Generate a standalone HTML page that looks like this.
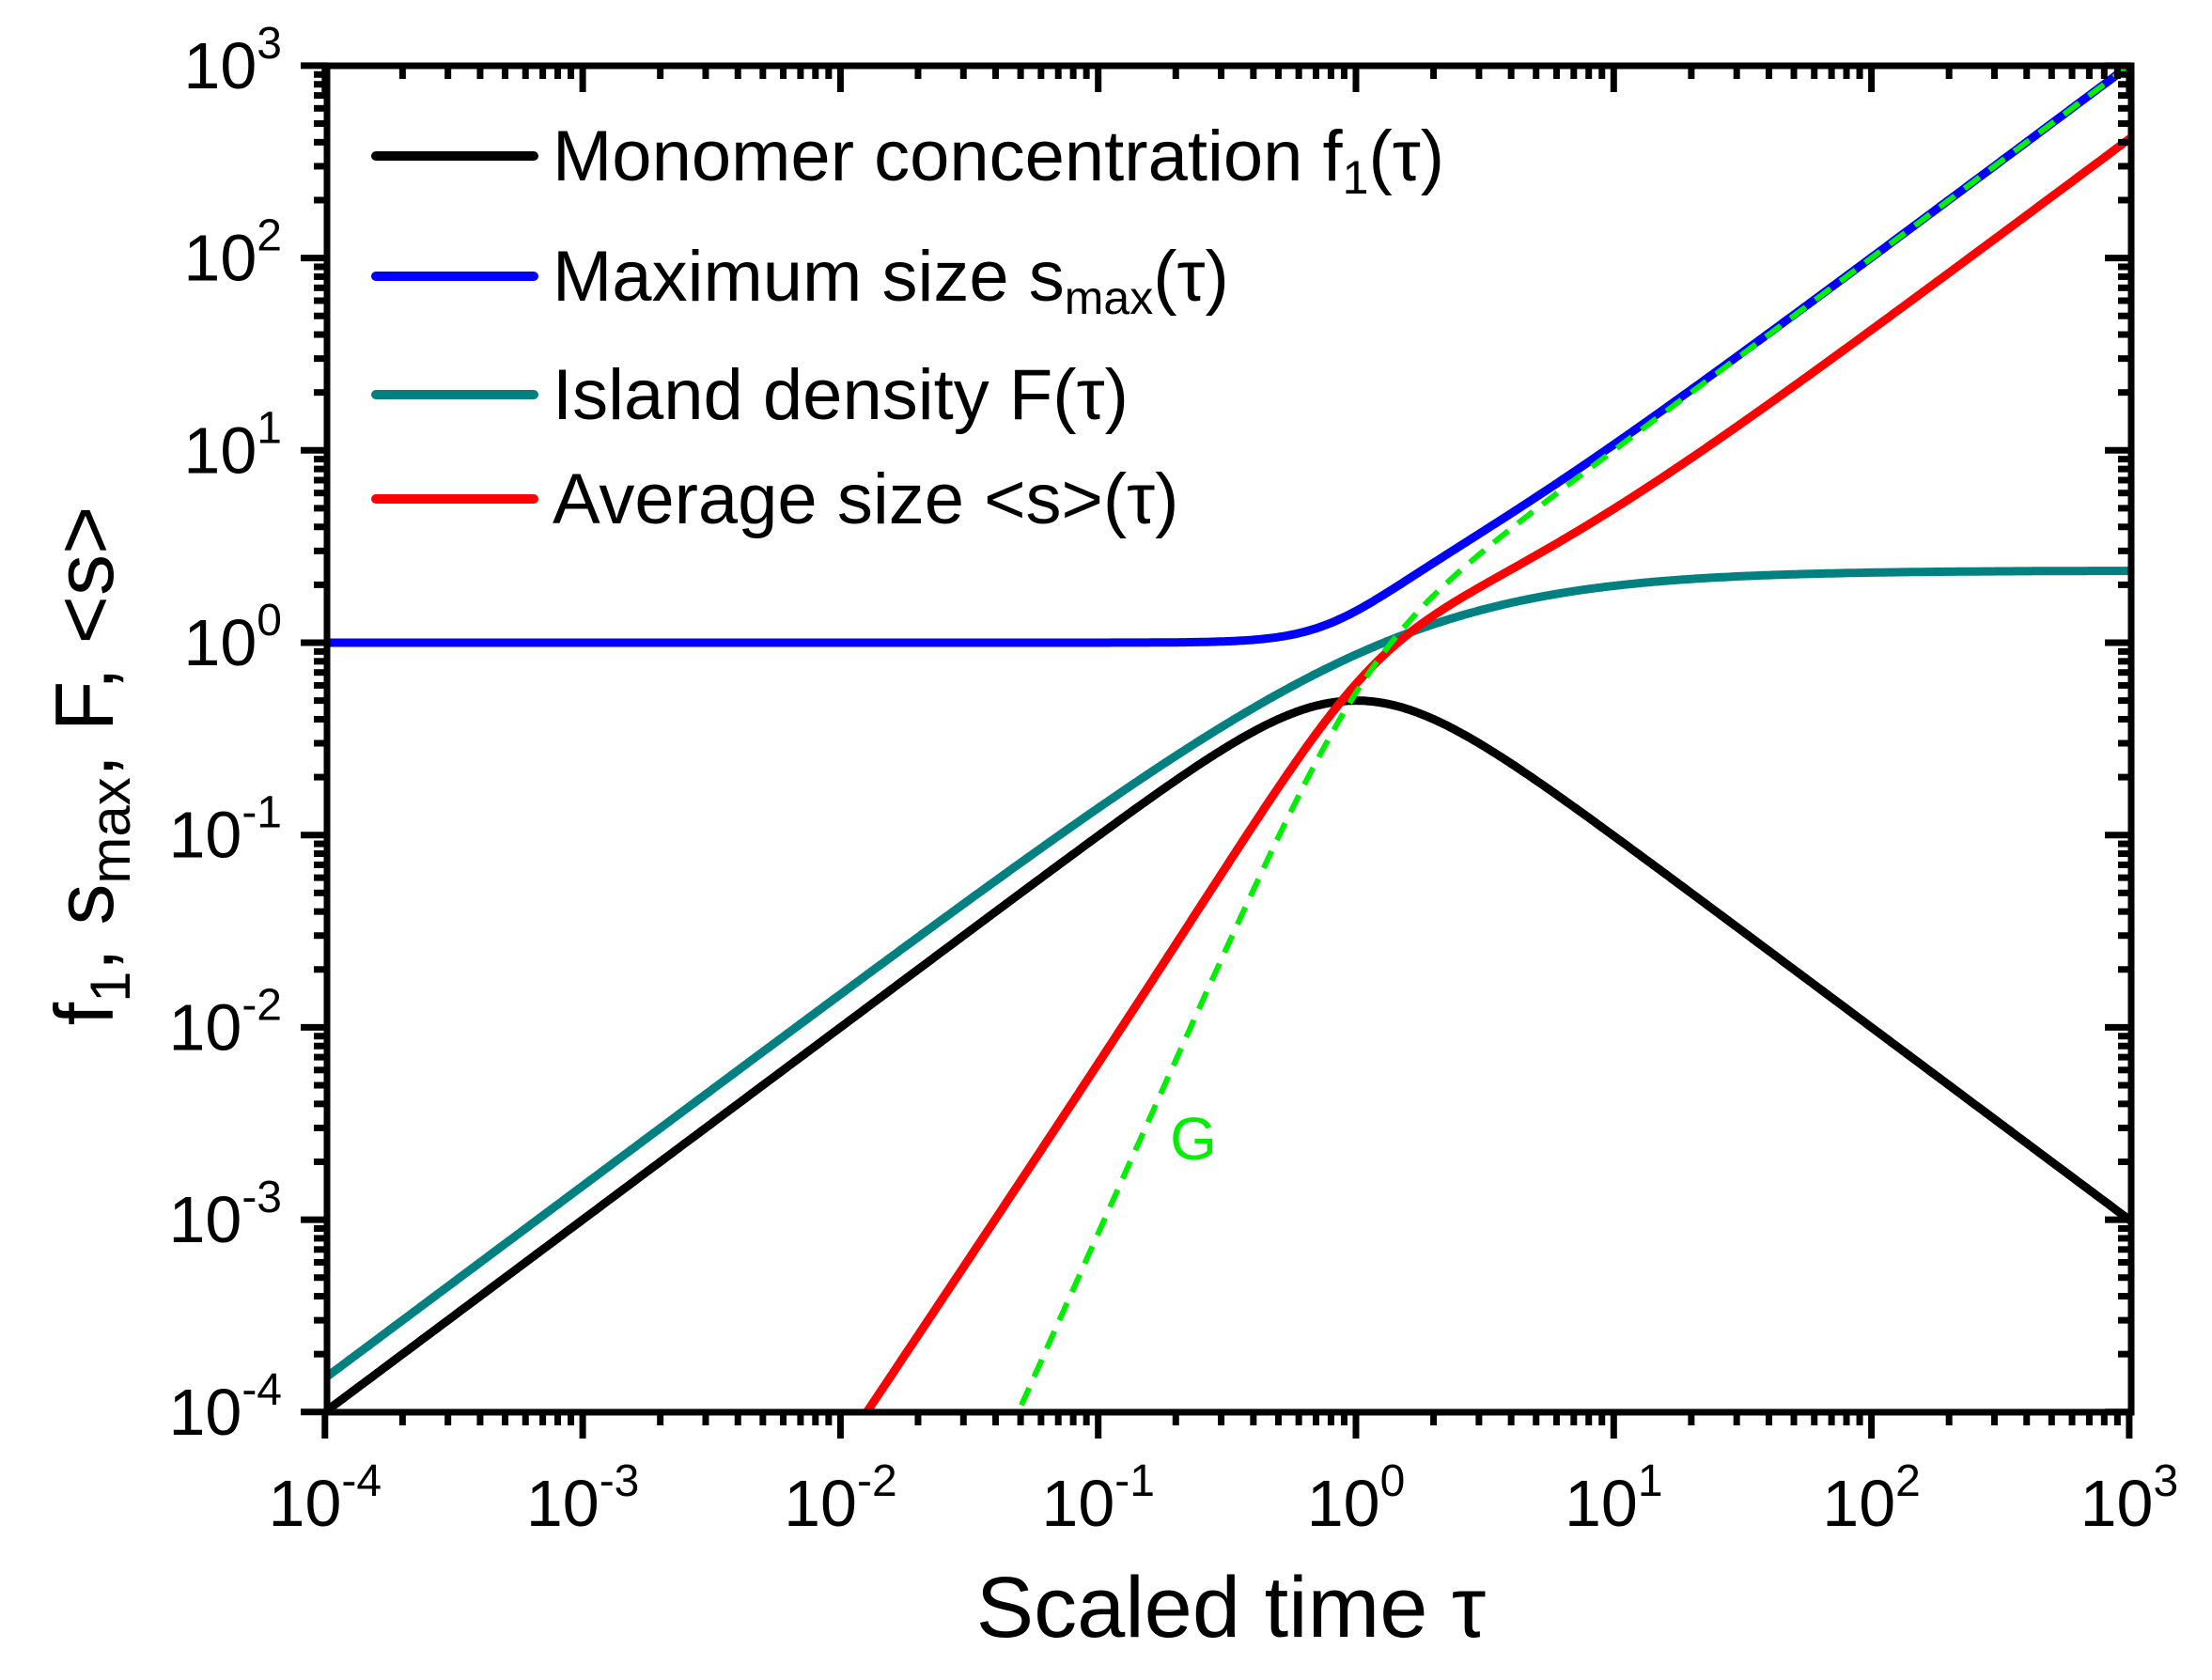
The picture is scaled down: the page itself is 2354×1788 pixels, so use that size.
<!DOCTYPE html>
<html><head><meta charset="utf-8"><style>
html,body{margin:0;padding:0;background:#fff}
svg{display:block}
text{font-family:"Liberation Sans",Arial,sans-serif}
</style></head><body>
<svg id="s" width="2354" height="1788" viewBox="0 0 2354 1788" xmlns="http://www.w3.org/2000/svg">
<defs><clipPath id="c"><rect x="348" y="70" width="1920" height="1433"/></clipPath></defs>
<g id="curves" clip-path="url(#c)"></g>
<g id="axes"></g>
<g font-size="76">
<line x1="400" y1="166" x2="568" y2="166" stroke="#000" stroke-width="10" stroke-linecap="round"/>
<text x="588" y="192">Monomer concentration f<tspan font-size="50" dy="14">1</tspan><tspan dy="-14">(τ)</tspan></text>
<line x1="400" y1="294" x2="568" y2="294" stroke="#0000ff" stroke-width="10" stroke-linecap="round"/>
<text x="588" y="320">Maximum size s<tspan font-size="50" dy="14">max</tspan><tspan dy="-14">(τ)</tspan></text>
<line x1="400" y1="420" x2="568" y2="420" stroke="#008080" stroke-width="10" stroke-linecap="round"/>
<text x="588" y="446">Island density F(τ)</text>
<line x1="400" y1="531" x2="568" y2="531" stroke="#ff0000" stroke-width="10" stroke-linecap="round"/>
<text x="588" y="557">Average size &lt;s&gt;(τ)</text>
</g>
<text x="1270" y="1234" font-size="64" fill="#00ee00" text-anchor="middle">G</text>
<text x="1310" y="1742" font-size="92" text-anchor="middle">Scaled time τ</text>
<text transform="translate(120,815) rotate(-90)" font-size="88" text-anchor="middle">f<tspan font-size="60" dy="18">1</tspan><tspan dy="-18">, s</tspan><tspan font-size="60" dy="18">max</tspan><tspan dy="-18">, F, &lt;s&gt;</tspan></text>
</svg>
<script>
var L=348,R=2268,T=70,B=1503;
var X0=1443,DX=274.3,Y0=684,DY=204.7;
function px(t){return X0+DX*Math.log10(t);}
function py(v){return Y0-DY*Math.log10(v);}
var NS="http://www.w3.org/2000/svg";
function el(p,tag,at,txt){var e=document.createElementNS(NS,tag);for(var k in at)e.setAttribute(k,at[k]);if(txt!==undefined)e.textContent=txt;p.appendChild(e);return e;}
var ax=document.getElementById('axes');
el(ax,'rect',{x:L,y:T,width:R-L,height:B-T,fill:'none',stroke:'#000','stroke-width':7});
for(var d=-4;d<=3;d++){
  for(var m=1;m<=9;m++){
    if(d==3&&m>1)break;
    var t=m*Math.pow(10,d),x=px(t),maj=(m==1),len=maj?28:14;
    el(ax,'line',{x1:x,y1:B,x2:x,y2:B+len,stroke:'#000','stroke-width':7});
    el(ax,'line',{x1:x,y1:T,x2:x,y2:T+len,stroke:'#000','stroke-width':7});
    var y=py(t);
    el(ax,'line',{x1:L,y1:y,x2:L-len,y2:y,stroke:'#000','stroke-width':7});
    el(ax,'line',{x1:R,y1:y,x2:R-len,y2:y,stroke:'#000','stroke-width':7});
  }
  var tx=el(ax,'text',{x:px(Math.pow(10,d)),y:1624,'font-size':70,'text-anchor':'middle'},'10');
  el(tx,'tspan',{'font-size':48,dy:-32},String(d));
  var ty=el(ax,'text',{x:300,y:py(Math.pow(10,d))+24,'font-size':70,'text-anchor':'end'},'10');
  el(ty,'tspan',{'font-size':48,dy:-32},String(d));
}
function G(t){var n=2.7,tc=1.085;return 0.85*t*t*t/Math.pow(1+Math.pow(t/tc,n),2/n);}
function S(t){var n=2.5,tc=1.157;return 0.62*t*t*(1+0.5*t)/Math.pow(1+Math.pow(t/tc,n),2/n);}
function f1(t){return t/(1+t*t);}
function F(t){var a=1.5,n=0.92;return a*t/Math.pow(1+Math.pow(a*t/2.37,n),1/n);}
function sm(t){var n=1.1;return Math.pow(1+Math.pow(G(t),n),1/n);}
var cg=document.getElementById('curves');
function draw(fn,col,w,t0,dash){
  var d='';for(var i=0;i<=900;i++){var lt=-4.1+7.2*i/900;var t=Math.pow(10,lt);if(t<t0)continue;
    var v=fn(t);d+=(d?'L':'M')+px(t).toFixed(1)+','+py(v).toFixed(1);}
  var a={d:d,fill:'none',stroke:col,'stroke-width':w};if(dash)a['stroke-dasharray']=dash;
  el(cg,'path',a);
}
draw(f1,'#000',9,0);
draw(F,'#008080',9,0);
draw(S,'#ff0000',9,0.01);
draw(sm,'#0000ff',9,0);
draw(G,'#00ee00',6,0.04,'20,13');
</script>
</body></html>
